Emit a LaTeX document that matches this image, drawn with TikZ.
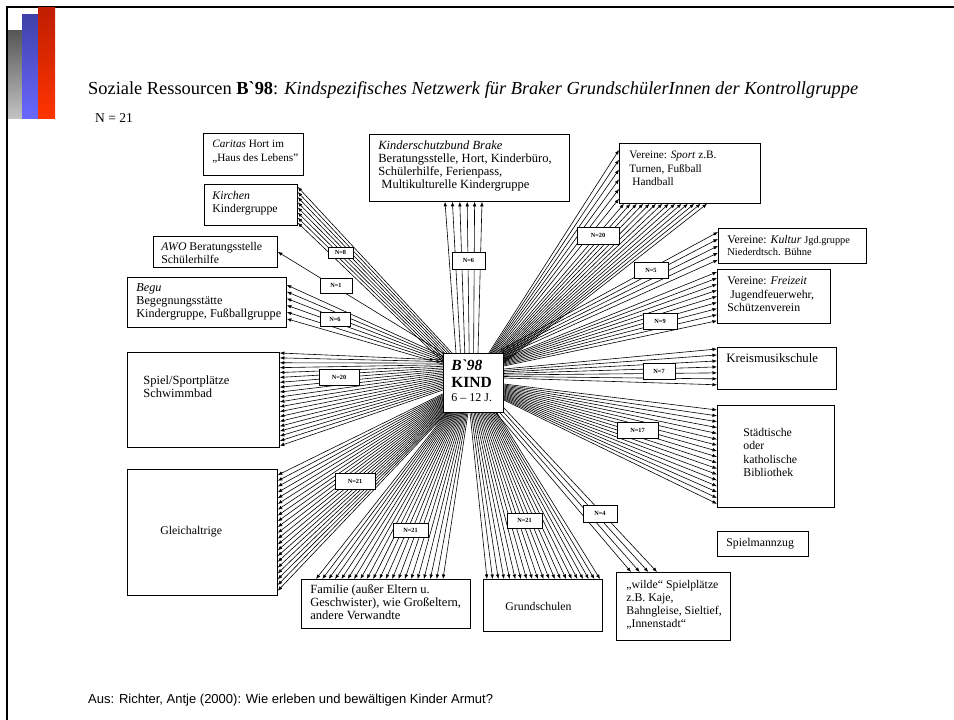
\documentclass[tikz,border=0pt]{standalone}
\usepackage{fontspec}
\setmainfont{Liberation Serif}
\newfontfamily\plainserif{Liberation Serif}
\newfontfamily\arialfont{Liberation Sans}
\usetikzlibrary{calc,arrows.meta,backgrounds}
\definecolor{grayTop}{RGB}{85,85,85}
\definecolor{grayBot}{RGB}{195,195,195}
\definecolor{blueTop}{RGB}{64,64,168}
\definecolor{blueBot}{RGB}{104,104,255}
\definecolor{redTop}{RGB}{190,30,0}
\definecolor{redBot}{RGB}{255,52,0}
% box text: width, height, left pad, top pad, text
\newcommand\bx[5]{\parbox[b][#2pt][t]{#1pt}{\raggedright\leftskip=#3pt\relax\vspace*{#4pt}#5\par}}
\newcommand\fs[1]{\fontsize{#1}{13.3}\selectfont}
% fan: N, start A, start B, end A, end B
\newcommand\myfan[5]{\foreach \i in {1,...,#1}{\pgfmathsetmacro\fr{(\i-1)/(#1-1)}\draw[fanline] ($(#2)!\fr!(#3)$) -- ($(#4)!\fr!(#5)$);}}
\begin{document}
\begin{tikzpicture}[x=1pt,y=-1pt,
  fanline/.style={line width=0.6pt,-{Latex[length=4.5pt,width=3.6pt]}},
  box/.style={draw,line width=0.8pt,fill=white,inner sep=0pt,anchor=north west,font=\fontsize{11.8}{13.3}\selectfont},
  nlab/.style={draw,line width=0.7pt,fill=white,inner sep=0pt,font=\fontsize{6.3}{7}\selectfont\bfseries}]
\useasboundingbox (0,0) rectangle (954,720);
% frame and decoration
\draw[line width=1.6pt] (7,720) -- (7,7) -- (954,7);
\shade[top color=grayTop,bottom color=grayBot] (8,30) rectangle (22,118);
\shade[top color=blueTop,bottom color=blueBot] (22,14) rectangle (38,118);
\shade[top color=redTop,bottom color=redBot] (38,7) rectangle (55,118);
% titles
\node[anchor=base west,inner sep=0pt,font=\fontsize{18.4}{20}\selectfont] (title) at (88,94)
  {Soziale Ressourcen {\plainserif\bfseries B`98}: \textit{Kindspezifisches Netzwerk für Braker GrundschülerInnen der Kontrollgruppe}};
\node[anchor=base west,inner sep=0pt,font=\fontsize{13.5}{15}\selectfont] (nn) at (95,122) {N = 21};
\node[anchor=base west,inner sep=0pt,font=\arialfont\fontsize{13}{15}\selectfont] (src) at (88,703)
  {Aus: Richter, Antje (2000): Wie erleben und bewältigen Kinder Armut?};
% boxes
\node[box] (caritas) at (203,133) {\bx{100}{42}{9}{7}{\fs{11.2}\textit{Caritas} Hort im\\„Haus des Lebens"}};
\node[box] (kirchen) at (204,184) {\bx{93}{41}{8}{7}{\textit{Kirchen}\\Kindergruppe}};
\node[box] (awo) at (153,236) {\bx{124}{31}{8}{5.5}{\textit{AWO} Beratungsstelle\\Schülerhilfe}};
\node[box] (begu) at (127,277) {\bx{159}{50}{9}{6}{\fs{12.2}\textit{Begu}\\Begegnungsstätte\\Kindergruppe, Fußballgruppe}};
\node[box] (kinder) at (369,134) {\bx{200}{67}{9}{6}{\fs{12.5}\textit{Kinderschutzbund Brake}\\Beratungsstelle, Hort, Kinderbüro,\\Schülerhilfe, Ferienpass,\\\hspace*{3pt}Multikulturelle Kindergruppe}};
\node[box] (sport) at (619,143) {\bx{141}{60}{10}{8}{\fs{11.3}Vereine: \textit{Sport} z.B.\\Turnen, Fußball\\\hspace*{3pt}Handball}};
\node[box] (kultur) at (718,228) {\bx{148}{35}{9}{6.5}{\fontsize{11.8}{12}\selectfont Vereine: \textit{Kultur} {\fontsize{10.3}{12}\selectfont Jgd.gruppe}\\{\fontsize{10.5}{12}\selectfont Niederdtsch. Bühne}}};
\node[box] (freizeit) at (717,269) {\bx{113}{54}{10}{7.5}{Vereine: \textit{Freizeit}\\\hspace*{3pt}Jugendfeuerwehr,\\Schützenverein}};
\node[box] (kreis) at (717,347) {\bx{119}{42}{9}{6}{\fs{12.8}Kreismusikschule}};
\node[box] (staedt) at (717,405) {\bx{117}{102}{26}{23}{Städtische\\oder\\katholische\\Bibliothek}};
\node[box] (spielmann) at (717,531) {\bx{91}{25}{9}{6.5}{Spielmannzug}};
\node[box] (wilde) at (616,572) {\bx{114}{68}{10}{7.5}{„wilde“ Spielplätze\\z.B. Kaje,\\Bahngleise, Sieltief,\\„Innenstadt“}};
\node[box] (grund) at (483,579) {\bx{119}{52}{22}{22.5}{Grundschulen}};
\node[box] (familie) at (301,579) {\bx{169}{49}{9}{5}{\fs{12.5}Familie (außer Eltern u.\\Geschwister), wie Großeltern,\\andere Verwandte}};
\node[box] (spiel) at (127,352) {\bx{152}{95}{16}{23}{\fs{12.5}Spiel/Sportplätze\\Schwimmbad}};
\node[box] (gleich) at (127,469) {\bx{150}{126}{33}{57}{Gleichaltrige}};
\node[box] (kind) at (443,353) {\bx{60}{59}{8}{6}{\fontsize{15.5}{17}\selectfont{\plainserif\bfseries\itshape B`98}\\\textbf{KIND}\\[-3pt]{\fontsize{12}{13}\selectfont 6 – 12 J.}}};
% fan end points on the edges of the boxes
\coordinate (spA) at ($(kind.north east)+(-15,0)$);
\coordinate (spB) at ($(kind.north east)+(0,10)$);
\coordinate (spL1) at ($(sport.north west)+(0,7)$);
\coordinate (spL2) at ($(sport.south west)+(0,-5)$);
\coordinate (spB1) at ($(sport.south west)+(5,0)$);
\coordinate (spB2) at ($(sport.south west)+(88,0)$);
% fans
\begin{pgfonlayer}{background}
\myfan{8}{$(kind.north west)+(9,0)$}{$(kind.north west)+(0,9)$}{$(kirchen.north east)+(0,3)$}{$(kirchen.south east)+(0,-3)$}
\draw[fanline] (kind.north west) -- (awo.east);
\myfan{6}{$(kind.north west)+(0,3)$}{$(kind.north west)+(0,11)$}{$(begu.north east)+(0,8)$}{$(begu.south east)+(0,-9)$}
\myfan{6}{$(kind.north west)+(13,0)$}{$(kind.north west)+(35,0)$}{$(kinder.south west)+(76,0)$}{$(kinder.south west)+(113,0)$}
% sport: 6 on the left edge, 14 on the bottom edge
\foreach \i in {1,...,6}{\pgfmathsetmacro\fr{(\i-1)/19}\pgfmathsetmacro\gr{(\i-1)/5}
  \draw[fanline] ($(spA)!\fr!(spB)$) -- ($(spL1)!\gr!(spL2)$);}
\foreach \i in {7,...,20}{\pgfmathsetmacro\fr{(\i-1)/19}\pgfmathsetmacro\gr{(\i-7)/13}
  \draw[fanline] ($(spA)!\fr!(spB)$) -- ($(spB1)!\gr!(spB2)$);}
\myfan{5}{$(kind.north east)+(-3,-3)$}{$(kind.north east)+(0,3)$}{$(kultur.north west)+(0,4)$}{$(kultur.south west)+(0,-4)$}
\myfan{9}{$(kind.north east)+(0,5)$}{$(kind.north east)+(0,13)$}{$(freizeit.north west)+(0,3)$}{$(freizeit.south west)+(0,-3)$}
\myfan{7}{$(kind.north east)+(0,16)$}{$(kind.north east)+(0,25)$}{$(kreis.north west)+(0,2)$}{$(kreis.south west)+(0,-5)$}
\myfan{17}{$(kind.north east)+(0,31)$}{$(kind.north east)+(0,47)$}{$(staedt.north west)+(0,5)$}{$(staedt.south west)+(0,-4)$}
\myfan{4}{$(kind.south east)+(-8,0)$}{$(kind.south east)+(0,-5)$}{$(wilde.north west)+(15,0)$}{$(wilde.north west)+(41,0)$}
\myfan{21}{$(kind.south west)+(27,0)$}{$(kind.south west)+(54,0)$}{$(grund.north west)+(4,0)$}{$(grund.north west)+(117,0)$}
\myfan{21}{$(kind.south west)+(4,0)$}{$(kind.south west)+(25,0)$}{$(familie.north west)+(15,0)$}{$(familie.north west)+(142,0)$}
\myfan{21}{$(kind.south west)+(0,-19)$}{$(kind.south west)+(4,0)$}{$(gleich.north east)+(0,6)$}{$(gleich.south east)+(0,-5)$}
\myfan{20}{$(kind.north west)+(0,7)$}{$(kind.north west)+(0,37)$}{$(spiel.north east)+(0,1)$}{$(spiel.south east)+(0,-2)$}
\end{pgfonlayer}
% labels
\node[nlab,minimum width=25pt,minimum height=11pt] (l8) at (340.5,252.5) {N=8};
\node[nlab,minimum width=32pt,minimum height=15pt] (l1) at (336,285.5) {N=1};
\node[nlab,minimum width=30pt,minimum height=14pt] (l6a) at (335,319) {N=6};
\node[nlab,minimum width=33pt,minimum height=17pt] (l6b) at (468.5,260.5) {N=6};
\node[nlab,minimum width=42pt,minimum height=17pt] (l20a) at (598,235.5) {N=20};
\node[nlab,minimum width=34pt,minimum height=16pt] (l5) at (651,270) {N=5};
\node[nlab,minimum width=34pt,minimum height=16pt] (l9) at (660,321) {N=9};
\node[nlab,minimum width=40pt,minimum height=16pt] (l20b) at (339,377) {N=20};
\node[nlab,minimum width=40pt,minimum height=16pt] (l21a) at (355,481) {N=21};
\node[nlab,minimum width=35pt,minimum height=14pt] (l21b) at (410.5,530) {N=21};
\node[nlab,minimum width=35pt,minimum height=15pt] (l21c) at (524.5,520.5) {N=21};
\node[nlab,minimum width=34pt,minimum height=17pt] (l4) at (600,513.5) {N=4};
\node[nlab,minimum width=32pt,minimum height=16pt] (l7) at (659,371) {N=7};
\node[nlab,minimum width=41pt,minimum height=16pt] (l17) at (637.5,430) {N=17};
\end{tikzpicture}
\end{document}
